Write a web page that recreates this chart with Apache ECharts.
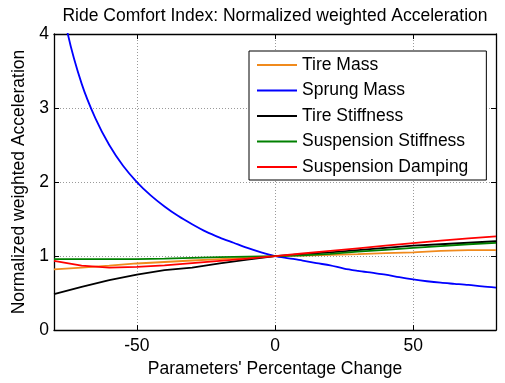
<!DOCTYPE html>
<html>
<head>
<meta charset="utf-8">
<script src="https://cdn.jsdelivr.net/npm/echarts@6/dist/echarts.min.js"></script>
<style>
  html, body { margin: 0; padding: 0; background: #fff; }
  #chart { width: 505px; height: 383px; }
</style>
</head>
<body>
<div id="chart"></div>
<script>
// Parameter change (%) sampled every 10 % and every 5 % (sprung mass curve)
const pctCoarse = [-80, -70, -60, -50, -40, -30, -20, -10, 0, 10, 20, 30, 40, 50, 60, 70, 80];
const pctFine = [-80, -75, -70, -65, -60, -55, -50, -45, -40, -35, -30, -25, -20, -15, -10, -5, 0,
                 5, 10, 15, 20, 25, 30, 35, 40, 45, 50, 55, 60, 65, 70, 75, 80];

// Normalized weighted acceleration for each parameter sweep
const tireMass = [0.82, 0.845, 0.87, 0.90, 0.92, 0.94, 0.96, 0.98, 1.00,
                  1.005, 1.015, 1.025, 1.04, 1.05, 1.07, 1.08, 1.08];
const sprungMass = [5.0, 4.0, 3.33, 2.86, 2.5, 2.22, 2.0, 1.82, 1.67, 1.54, 1.43, 1.33, 1.25, 1.18, 1.11, 1.05, 1.00,
                    0.97, 0.94, 0.905, 0.875, 0.83, 0.80, 0.775, 0.75, 0.715, 0.685, 0.66, 0.64, 0.625, 0.61, 0.59, 0.575];
const tireStiffness = [0.485, 0.585, 0.675, 0.75, 0.81, 0.845, 0.90, 0.953, 1.00,
                       1.025, 1.05, 1.08, 1.11, 1.14, 1.16, 1.18, 1.20];
const suspStiffness = [0.96, 0.96, 0.96, 0.96, 0.965, 0.975, 0.985, 0.993, 1.00,
                       1.01, 1.03, 1.06, 1.085, 1.11, 1.135, 1.16, 1.177];
const suspDamping = [0.935, 0.87, 0.845, 0.855, 0.875, 0.905, 0.935, 0.965, 1.00,
                     1.035, 1.07, 1.105, 1.14, 1.175, 1.21, 1.24, 1.265];

const seriesNames = ['Tire Mass', 'Sprung Mass', 'Tire Stiffness', 'Suspension Stiffness', 'Suspension Damping'];
const seriesColors = ['#F08A1C', '#0000FF', '#000000', '#008000', '#FF0000'];

// Tick positions
const xTicks = [-50, 0, 50];
const yTicks = [0, 1, 2, 3, 4];

const FONT = 'Liberation Sans, Arial, sans-serif';
const FS = 17.5;

function pairs(xs, ys) {
  return xs.map((x, i) => [x, ys[i]]);
}

const seriesData = [
  pairs(pctCoarse, tireMass),
  pairs(pctFine, sprungMass),
  pairs(pctCoarse, tireStiffness),
  pairs(pctCoarse, suspStiffness),
  pairs(pctCoarse, suspDamping)
];

const chart = echarts.init(document.getElementById('chart'), null, { renderer: 'canvas' });

const gridLine = { show: true, lineStyle: { color: '#9a9a9a', type: [1, 2], width: 1 } };
const boxLine = { show: true, onZero: false, lineStyle: { color: '#000', width: 1.3 } };
const inTick = { show: true, inside: true, length: 5, lineStyle: { color: '#000', width: 1 } };

chart.setOption({
  animation: false,
  backgroundColor: '#fff',
  title: {
    text: 'Ride Comfort Index: Normalized weighted Acceleration',
    left: 270,
    top: 2,
    textAlign: 'center',
    textStyle: { fontFamily: FONT, fontSize: FS, fontWeight: 'normal', color: '#000' }
  },
  grid: { left: 54, top: 34, right: 9, bottom: 51, containLabel: false },
  legend: {
    orient: 'vertical',
    left: 249,
    top: 51,
    padding: [5, 18, 4, 8],
    itemGap: 7.5,
    itemWidth: 40,
    itemHeight: 2,
    icon: 'rect',
    backgroundColor: '#fff',
    borderColor: '#000',
    borderWidth: 1,
    borderRadius: 0,
    data: seriesNames,
    textStyle: { fontFamily: FONT, fontSize: FS, color: '#000', lineHeight: 17.6 }
  },
  xAxis: [
    {
      type: 'value',
      min: -80,
      max: 80,
      position: 'bottom',
      axisLine: boxLine,
      axisTick: Object.assign({}, inTick, { customValues: xTicks }),
      axisLabel: { customValues: xTicks, margin: 7, fontFamily: FONT, fontSize: FS, color: '#000' },
      splitLine: gridLine,
      name: "Parameters' Percentage Change",
      nameLocation: 'middle',
      nameGap: 27,
      nameTextStyle: { fontFamily: FONT, fontSize: FS, color: '#000' }
    },
    {
      type: 'value',
      min: -80,
      max: 80,
      position: 'top',
      axisLine: boxLine,
      axisTick: Object.assign({}, inTick, { customValues: xTicks }),
      axisLabel: { show: false },
      splitLine: { show: false }
    }
  ],
  yAxis: [
    {
      type: 'value',
      min: 0,
      max: 4,
      interval: 1,
      position: 'left',
      axisLine: boxLine,
      axisTick: inTick,
      axisLabel: { margin: 5, fontFamily: FONT, fontSize: FS, color: '#000' },
      splitLine: gridLine,
      name: 'Normalized weighted Acceleration',
      nameLocation: 'middle',
      nameGap: 19,
      nameTextStyle: { fontFamily: FONT, fontSize: FS, color: '#000' }
    },
    {
      type: 'value',
      min: 0,
      max: 4,
      interval: 1,
      position: 'right',
      axisLine: boxLine,
      axisTick: inTick,
      axisLabel: { show: false },
      splitLine: { show: false }
    }
  ],
  series: seriesNames.map((name, i) => ({
    name: name,
    type: 'line',
    xAxisIndex: 0,
    yAxisIndex: 0,
    data: seriesData[i],
    showSymbol: false,
    symbol: 'none',
    clip: true,
    smooth: name === 'Sprung Mass' ? 0.3 : false,
    color: seriesColors[i],
    lineStyle: { color: seriesColors[i], width: 1.8 },
    z: 2 + i
  }))
});
</script>
</body>
</html>
